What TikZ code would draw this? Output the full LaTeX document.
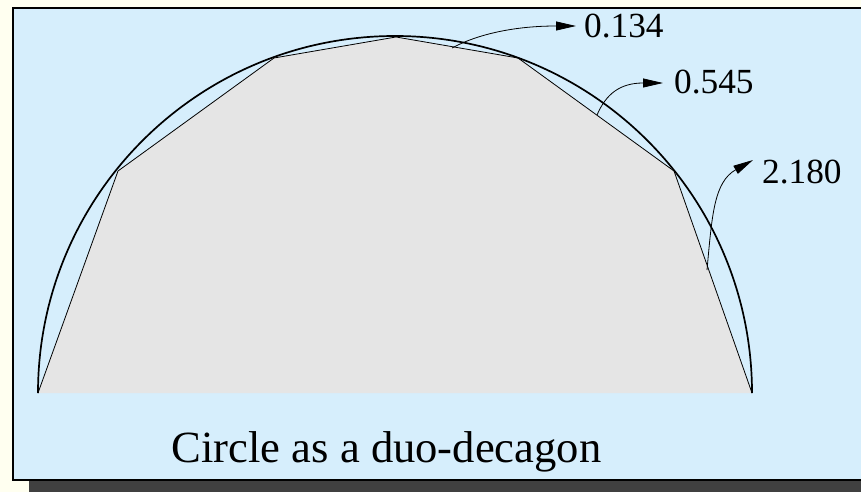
\documentclass[tikz,border=0pt]{standalone}
\usepackage{fontspec}
\setmainfont{Liberation Serif}
\usetikzlibrary{arrows.meta}
\definecolor{cream}{RGB}{255,255,240}
\definecolor{panelblue}{RGB}{214,238,252}
\definecolor{polygray}{RGB}{229,229,229}
\definecolor{shadowgray}{RGB}{64,64,64}
\begin{document}
\begin{tikzpicture}[x=1pt,y=-1pt,
  arcline/.style={line width=1.7pt},
  edgeline/.style={line width=0.8pt,line join=miter},
  pointer/.style={line width=0.8pt,-{Triangle[length=20pt,width=9pt]}},
  value/.style={anchor=base west,inner sep=0pt,font=\fontsize{35.3}{40}\selectfont},
]
\useasboundingbox (0,0) rectangle (861,492);
\clip (0,0) rectangle (861,492);
\fill[cream] (0,0) rectangle (861,492);
\fill[shadowgray] (29,24) rectangle (900,520);
\filldraw[fill=panelblue,draw=black,line width=1.5pt] (13,8) rectangle (900,480);
% polygon vertices on the circle
\coordinate (p0) at (38,393);
\coordinate (p1) at (118,171);
\coordinate (p2) at (274,58);
\coordinate (p3) at (396,37);
\coordinate (p4) at (518,58);
\coordinate (p5) at (674,171);
\coordinate (p6) at (752,393);
\fill[polygray] (p0)--(p1)--(p2)--(p3)--(p4)--(p5)--(p6)--cycle;
\draw[edgeline] (p0)--(p1)--(p2)--(p3)--(p4)--(p5)--(p6);
\draw[arcline] (p0) arc[start angle=180,end angle=360,radius=357];
% labels
\node[value] (v1) at (584,38) {0.134};
\node[value] (v2) at (674,94) {0.545};
\node[value] (v3) at (762,183) {2.180};
\coordinate (s1) at (452,48);
\coordinate (t1) at (576,26);
\coordinate (s2) at (597,115);
\coordinate (t2) at (663,83);
\coordinate (s3) at (707,270);
\coordinate (t3) at (753,160);
\draw[pointer] (s1) .. controls (478,34) and (515,26) .. (t1);
\draw[pointer] (s2) .. controls (606,94) and (620,83) .. (t2);
\draw[pointer] (s3) .. controls (712,215) and (714,182) .. (t3);
\node[anchor=base,inner sep=0pt,font=\fontsize{44.6}{52}\selectfont] (cap) at (386.5,462) {Circle as a duo-decagon};
\end{tikzpicture}
\end{document}
